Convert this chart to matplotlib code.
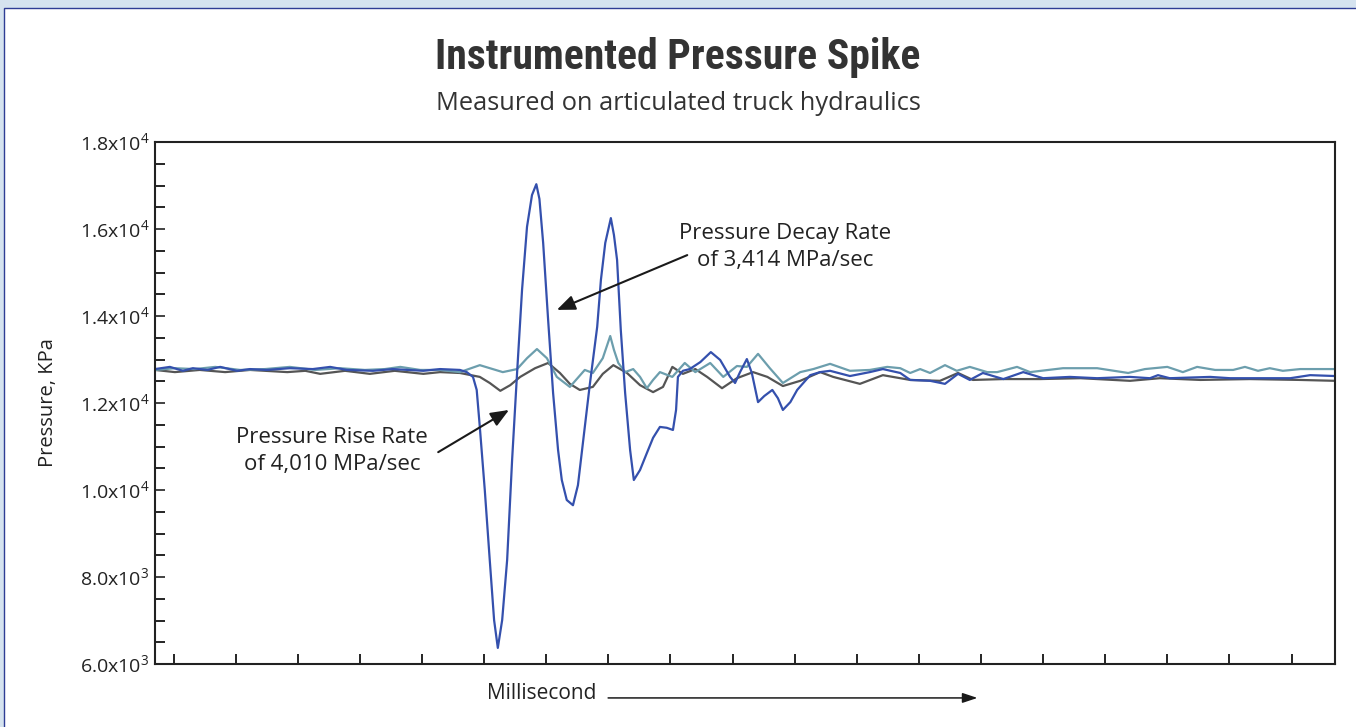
import numpy as np
import matplotlib
matplotlib.use("Agg")
import matplotlib.pyplot as plt
from matplotlib.patches import Rectangle
from matplotlib.ticker import FuncFormatter, MultipleLocator
from matplotlib import font_manager

# time in ms (arbitrary units, 1 tick = 1), pressure in kPa
blue_t = [0, 0.24, 0.45, 0.61, 0.84, 1.05, 1.32, 1.53, 1.80, 2.17, 2.54, 2.82, 3.09, 3.51, 3.83, 4.32,
          4.59, 4.91, 5.02, 5.12, 5.18, 5.23, 5.31, 5.39, 5.46, 5.52, 5.59, 5.67, 5.75, 5.83, 5.91, 5.99,
          6.07, 6.14, 6.19, 6.25, 6.33, 6.41, 6.49, 6.55, 6.63, 6.73, 6.81, 6.89, 7.00, 7.12, 7.18, 7.25,
          7.34, 7.39, 7.44, 7.50, 7.57, 7.65, 7.71, 7.81, 7.92, 8.02, 8.13, 8.24, 8.34, 8.39, 8.42, 8.50,
          8.61, 8.78, 8.95, 9.10, 9.26, 9.34, 9.42, 9.53, 9.61, 9.71, 9.81, 9.94, 10.03, 10.11, 10.23,
          10.34, 10.55, 10.71, 10.87, 11.19, 11.51, 11.72, 12.00, 12.16, 12.48, 12.72, 12.93, 13.12,
          13.33, 13.66, 13.98, 14.30, 14.73, 15.17, 15.70, 16.02, 16.15, 16.34, 16.99, 17.31, 17.79,
          18.28, 18.60, 19.0]
blue_p = [12780, 12830, 12740, 12800, 12760, 12830, 12740, 12780, 12760, 12800, 12780, 12830, 12760,
          12740, 12780, 12740, 12780, 12760, 12710, 12600, 12300, 11450, 10000, 8390, 7010, 6370, 7010,
          8390, 10690, 12690, 14600, 16050, 16780, 17030, 16690, 15680, 13910, 12230, 10920, 10230,
          9770, 9650, 10110, 11080, 12410, 13750, 14830, 15680, 16250, 15860, 15290, 13680, 12230,
          10920, 10230, 10460, 10850, 11200, 11450, 11430, 11380, 11840, 12600, 12740, 12780, 12940,
          13170, 12990, 12600, 12460, 12710, 13010, 12690, 12020, 12160, 12300, 12110, 11840, 12020,
          12300, 12640, 12710, 12740, 12620, 12710, 12780, 12690, 12530, 12510, 12440, 12670, 12530,
          12690, 12550, 12710, 12570, 12600, 12570, 12600, 12570, 12640, 12570, 12600, 12570, 12570,
          12570, 12640, 12620]

teal_t = [0, 0.32, 0.64, 0.97, 1.37, 1.77, 2.17, 2.58, 2.98, 3.38, 3.70, 3.95, 4.27, 4.59, 4.91, 5.23,
          5.60, 5.83, 5.99, 6.15, 6.31, 6.47, 6.68, 6.92, 7.05, 7.21, 7.33, 7.39, 7.46, 7.57, 7.70, 7.81,
          7.92, 8.02, 8.13, 8.33, 8.53, 8.70, 8.94, 9.15, 9.37, 9.53, 9.71, 9.90, 10.11, 10.39, 10.60,
          10.87, 11.19, 11.51, 11.79, 12.00, 12.16, 12.32, 12.48, 12.72, 12.91, 13.12, 13.40, 13.56,
          13.88, 14.09, 14.62, 15.17, 15.67, 15.94, 16.30, 16.55, 16.78, 17.07, 17.36, 17.55, 17.76,
          17.95, 18.16, 18.44, 19.0]
teal_p = [12760, 12800, 12780, 12830, 12760, 12780, 12830, 12760, 12800, 12760, 12780, 12830, 12760,
          12760, 12710, 12870, 12710, 12780, 13030, 13240, 13030, 12600, 12370, 12760, 12690, 13030,
          13540, 13220, 12920, 12710, 12780, 12600, 12340, 12530, 12710, 12600, 12920, 12710, 12920,
          12600, 12850, 12830, 13130, 12800, 12460, 12710, 12780, 12900, 12740, 12760, 12830, 12800,
          12690, 12780, 12690, 12870, 12740, 12830, 12710, 12710, 12830, 12710, 12800, 12800, 12690,
          12780, 12830, 12710, 12830, 12760, 12760, 12830, 12740, 12800, 12740, 12780, 12780]

gray_t = [0, 0.32, 0.72, 1.13, 1.53, 2.13, 2.42, 2.66, 3.06, 3.46, 3.86, 4.32, 4.59, 4.91, 5.23, 5.39,
          5.56, 5.72, 5.88, 6.12, 6.33, 6.52, 6.68, 6.84, 7.05, 7.21, 7.38, 7.60, 7.81, 8.02, 8.18, 8.33,
          8.50, 8.70, 8.89, 9.13, 9.37, 9.63, 9.86, 10.11, 10.39, 10.71, 10.92, 11.35, 11.72, 12.16,
          12.64, 12.93, 13.17, 13.66, 14.25, 14.90, 15.70, 16.18, 16.83, 17.63, 18.44, 19.0]
gray_p = [12760, 12710, 12760, 12710, 12760, 12710, 12740, 12670, 12740, 12670, 12740, 12670, 12710,
          12690, 12600, 12460, 12280, 12410, 12600, 12800, 12920, 12690, 12440, 12300, 12370, 12670,
          12870, 12690, 12410, 12250, 12370, 12830, 12670, 12780, 12600, 12340, 12570, 12710, 12600,
          12390, 12510, 12710, 12600, 12440, 12640, 12530, 12510, 12690, 12530, 12550, 12550, 12570,
          12510, 12570, 12530, 12550, 12530, 12510]

plt.rcParams['font.family'] = ['Open Sans', 'DejaVu Sans']
plt.rcParams['mathtext.fontset'] = 'custom'
plt.rcParams['mathtext.rm'] = 'Open Sans'

# condensed bold face for the title if one is installed
names = set(f.name for f in font_manager.fontManager.ttflist)
title_fam = 'DejaVu Sans'
for cand in ['Roboto Condensed', 'Liberation Sans Narrow', 'DejaVu Sans']:
    if cand in names:
        title_fam = cand
        break

fig = plt.figure(figsize=(13.56, 7.27), dpi=100)
fig.patch.set_facecolor('#d5e3ef')
panel = Rectangle((4 / 1356, -0.01), 1.0, 1.01 - 8 / 727, transform=fig.transFigure,
                  facecolor='white', edgecolor='#2e3d94', linewidth=1.0, zorder=-5)
fig.add_artist(panel)

ax = fig.add_axes([155 / 1356, 63 / 727, 1180 / 1356, 522 / 727])
line_kw = dict(lw=1.6, solid_joinstyle='round', solid_capstyle='round')
ax.plot(gray_t, gray_p, color='#555555', **line_kw)
ax.plot(teal_t, teal_p, color='#6c9ead', **line_kw)
ax.plot(blue_t, blue_p, color='#3450ad', **line_kw)

ax.set_xlim(0, 19)
ax.set_ylim(6000, 18000)
ax.set_xticks(np.arange(0.3, 19, 1))
ax.set_xticklabels([])
ax.yaxis.set_major_locator(MultipleLocator(2000))
ax.yaxis.set_minor_locator(MultipleLocator(500))


def sci(v, pos):
    e = int(np.floor(np.log10(v)))
    return r'%.1fx10$^{\mathregular{%d}}$' % (v / 10 ** e, e)


ax.yaxis.set_major_formatter(FuncFormatter(sci))
ax.tick_params(axis='both', which='both', direction='in', length=7, width=1.2, color='black')
ax.tick_params(axis='y', labelsize=14, pad=4, colors='#222222')
for s in ax.spines.values():
    s.set_linewidth(1.5)
    s.set_color('#222222')

ax.set_ylabel('Pressure, KPa', fontsize=14.5, color='#222222', labelpad=16)

fig.text(0.5, 1 - 57 / 727, 'Instrumented Pressure Spike', ha='center', va='center',
         fontsize=30, fontweight='bold', color='#333333', family=[title_fam, 'DejaVu Sans'])
fig.text(0.5, 1 - 103 / 727, 'Measured on articulated truck hydraulics', ha='center', va='center',
         fontsize=18.3, color='#333333')

arrow = dict(arrowstyle='-|>,head_length=1.1,head_width=0.45', color='#1a1a1a', lw=1.5,
             shrinkA=0, shrinkB=0)
ax.annotate('', xy=(6.47, 14140), xytext=(8.57, 15400), arrowprops=arrow)
ax.text(10.14, 15590, 'Pressure Decay Rate\nof 3,414 MPa/sec', ha='center', va='center',
        fontsize=16, color='#222222', linespacing=1.35)
ax.annotate('', xy=(5.70, 11840), xytext=(4.56, 10870), arrowprops=arrow)
ax.text(2.85, 10900, 'Pressure Rise Rate\nof 4,010 MPa/sec', ha='center', va='center',
        fontsize=16, color='#222222', linespacing=1.35)

ax.text(0.328, -0.056, 'Millisecond', transform=ax.transAxes, ha='center', va='center',
        fontsize=15, color='#222222')
ax.annotate('', xy=(0.697, -0.065), xytext=(0.384, -0.065), xycoords='axes fraction',
            textcoords='axes fraction',
            arrowprops=dict(arrowstyle='-|>,head_length=0.9,head_width=0.3', color='#1a1a1a',
                            lw=1.1, shrinkA=0, shrinkB=0),
            annotation_clip=False)

fig.savefig('out.png', dpi=100, facecolor=fig.get_facecolor())
